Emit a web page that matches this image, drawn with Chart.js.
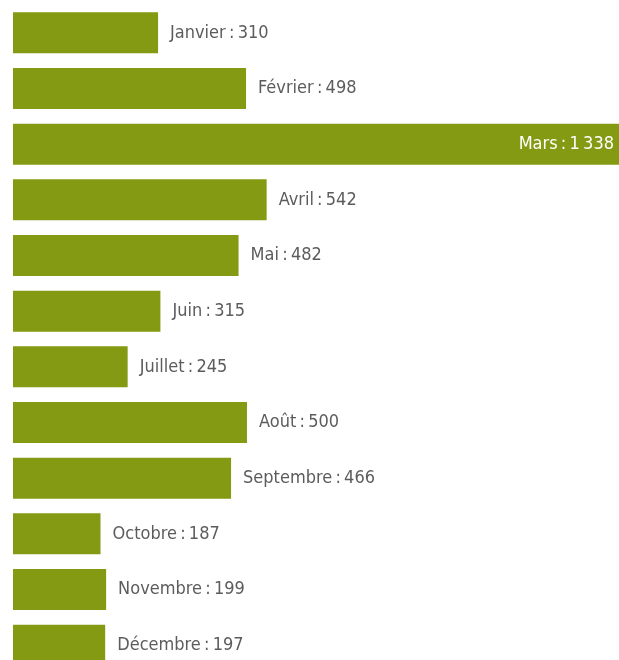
<!DOCTYPE html>
<html>
<head>
<meta charset="utf-8">
<script src="https://cdn.jsdelivr.net/npm/chart.js@4/dist/chart.umd.min.js"></script>
<style>
  html, body { margin:0; padding:0; background:#fff; overflow:hidden; }
  #wrap { position:relative; width:619px; height:680px; }
</style>
</head>
<body>
<div id="wrap"><canvas id="chart"></canvas></div>
<script>
const months = ["Janvier","Février","Mars","Avril","Mai","Juin","Juillet","Août","Septembre","Octobre","Novembre","Décembre"];
const visits = [310, 498, 1338, 542, 482, 315, 245, 500, 466, 187, 199, 197];
const valueLabels = ["310","498","1\u2009338","542","482","315","245","500","466","187","199","197"];

const barColor = "#839a12";
const fontFamily = "'DejaVu Sans Condensed', sans-serif";

// labels next to the bar end, or inside when the bar is too long
const endLabels = {
    id:"endLabels",
    afterDatasetsDraw(chart){
        const ctx = chart.ctx;
        const meta = chart.getDatasetMeta(0);
        const area = chart.chartArea;
        ctx.save();
        ctx.font = "18px " + fontFamily;
        ctx.textBaseline = "middle";
        meta.data.forEach((bar, i) => {
            const text = months[i] + "\u2009:\u2009" + valueLabels[i];
            const w = ctx.measureText(text).width;
            if(bar.x + 12 + w > area.right){
                ctx.fillStyle = "#ffffff";
                ctx.textAlign = "right";
                ctx.fillText(text, area.right - 5, bar.y);
            }else{
                ctx.fillStyle = "#5c5c5c";
                ctx.textAlign = "left";
                ctx.fillText(text, bar.x + 12, bar.y);
            }
        });
        ctx.restore();
    }
};

new Chart(document.getElementById("chart"),{
    type:"bar",
    data:{
        labels:months,
        datasets:[{
            data:visits,
            backgroundColor:barColor,
            borderWidth:0,
            barPercentage:0.736,
            categoryPercentage:1
        }]
    },
    options:{
        indexAxis:"y",
        responsive:true,
        maintainAspectRatio:false,
        animation:false,
        layout:{ padding:{ left:13, right:0, top:5, bottom:7 } },
        plugins:{
            legend:{ display:false },
            tooltip:{ enabled:false }
        },
        scales:{
            x:{ display:false, min:0, max:1295 },
            y:{ display:false }
        }
    },
    plugins:[endLabels]
});
</script>
</body>
</html>
